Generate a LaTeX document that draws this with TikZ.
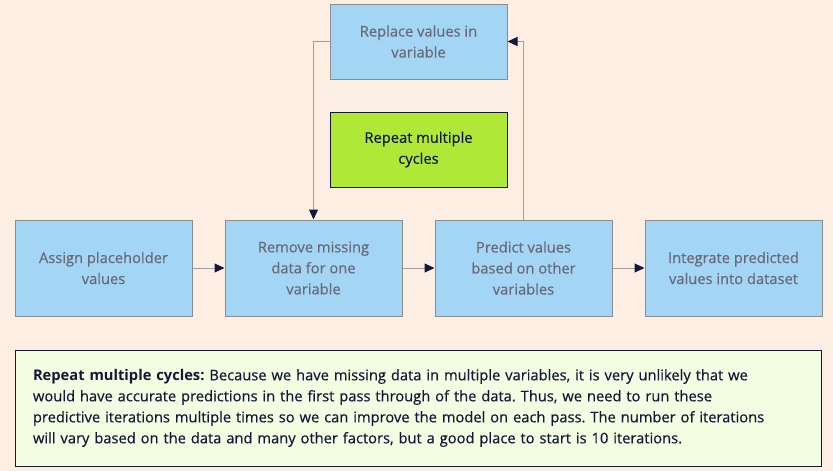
\documentclass[tikz,border=0pt]{standalone}
\usepackage{fontspec}
\setmainfont{Open Sans}[UprightFeatures={FakeBold=0.45}]
\frenchspacing
\usetikzlibrary{arrows.meta}
\definecolor{bg}{RGB}{253,238,228}
\definecolor{boxblue}{RGB}{163,213,244}
\definecolor{boxedge}{RGB}{140,140,140}
\definecolor{boxtext}{RGB}{105,105,122}
\definecolor{lime}{RGB}{176,232,55}
\definecolor{navy}{RGB}{20,24,56}
\definecolor{notefill}{RGB}{242,254,226}
\definecolor{linegray}{RGB}{160,160,160}
\tikzset{
  bluebox/.style={draw=boxedge, line width=1pt, fill=boxblue, text=boxtext, align=center,
    minimum width=177pt, inner sep=0pt, font=\fontsize{14.7}{21}\selectfont},
  limebox/.style={draw=navy, line width=1pt, fill=lime, text=navy, align=center,
    minimum width=177pt, minimum height=75pt, inner sep=0pt, font=\fontsize{14.7}{21}\selectfont},
  notebox/.style={draw=navy, line width=1pt, fill=notefill, text=navy, align=left,
    minimum width=806pt, minimum height=116pt, text width=770pt, inner sep=0pt,
    font=\fontsize{14.7}{21}\selectfont},
  conn/.style={draw=linegray, line width=1pt, -{Triangle[length=10pt,width=9pt,color=navy]}},
}
\begin{document}
\begin{tikzpicture}[x=1pt,y=-1pt]
\fill[bg] (0,0) rectangle (833,471);
\useasboundingbox (0,0) rectangle (833,471);
\node[bluebox, minimum height=75pt] (replace) at (418.5,41.5) {Replace values in\\variable};
\node[limebox] (repeat) at (418.5,149.5) {Repeat multiple\\cycles};
\node[bluebox, minimum height=96pt] (assign) at (103.5,268) {Assign placeholder\\values};
\node[bluebox, minimum height=96pt] (remove) at (313.5,268) {Remove missing\\data for one\\variable};
\node[bluebox, minimum height=96pt] (predict) at (523.5,268) {Predict values\\based on other\\variables};
\node[bluebox, minimum height=96pt] (integrate) at (733.5,268) {Integrate predicted\\values into dataset};
\node[notebox] (note) at (418,408) {\textbf{Repeat multiple cycles:} Because we have missing data in multiple variables, it is very unlikely that we\\would have accurate predictions in the first pass through of the data. Thus, we need to run these\\predictive iterations multiple times so we can improve the model on each pass. The number of iterations\\will vary based on the data and many other factors, but a good place to start is 10 iterations.};
\draw[conn] (assign) -- (remove);
\draw[conn] (remove) -- (predict);
\draw[conn] (predict) -- (integrate);
\draw[conn] (replace.west) -- (remove.north |- replace.west) -- (remove.north);
\draw[conn] (predict.north) -- (predict.north |- replace.east) -- (replace.east);
\end{tikzpicture}
\end{document}
